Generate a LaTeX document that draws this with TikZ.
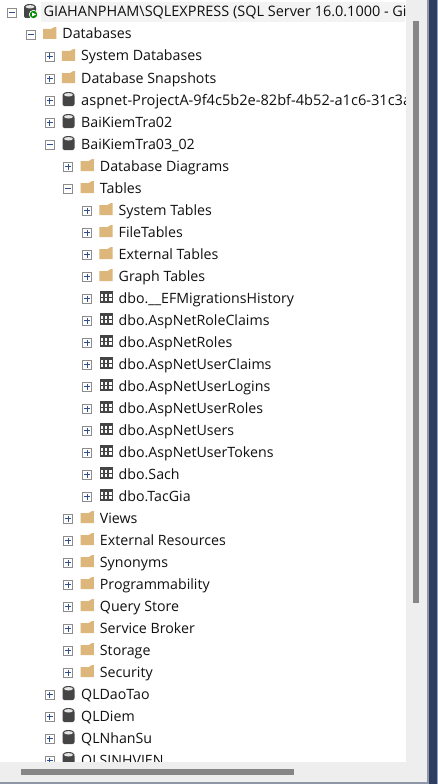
\documentclass[tikz,border=0pt]{standalone}
\usepackage{fontspec}
\setmainfont{Open Sans}
\definecolor{txt}{HTML}{101010}
\definecolor{fold}{HTML}{DCB67A}
\definecolor{dbc}{HTML}{454545}
\definecolor{panel}{HTML}{EEEEEE}
\definecolor{thumb}{HTML}{868686}
\definecolor{navy}{HTML}{2D3E60}
\definecolor{edge}{HTML}{8E96A8}
\definecolor{lite}{HTML}{8FA0C0}
\definecolor{xbr}{HTML}{8C8C8C}
\definecolor{xmk}{HTML}{2F4F8F}
\tikzset{
  x=1pt,y=-1pt,
  rowtext/.style={anchor=base west,inner sep=0pt,font=\fontsize{14.2}{16}\selectfont,text=txt},
  xbox/.style={draw=xbr,line width=.9pt,fill=white},
  xmark/.style={draw=xmk,line width=1pt}
}
\newcommand{\xplus}[2]{%
  \path[xbox] (#1-4.5,#2-4) rectangle (#1+4.5,#2+5);
  \path[xmark] (#1-3,#2+.5) -- (#1+3,#2+.5) (#1,#2-2.5) -- (#1,#2+3.5);}
\newcommand{\xminus}[2]{%
  \path[xbox] (#1-4.5,#2-4) rectangle (#1+4.5,#2+5);
  \path[xmark] (#1-3,#2+.5) -- (#1+3,#2+.5);}
\newcommand{\ifolder}[2]{%
  \fill[fold] (#1-6.7,#2-5) -- (#1+1.5,#2-5) -- (#1+4.5,#2-6.8) -- (#1+6.7,#2-6.8) -- (#1+6.7,#2+5) -- (#1-6.7,#2+5) -- cycle;}
\newcommand{\idb}[2]{%
  \fill[dbc,rounded corners=2pt] (#1-6,#2-6) rectangle (#1+6,#2+6);
  \fill[dbc] (#1,#2-5.2) ellipse [x radius=6,y radius=2.8];
  \fill[white!90!black] (#1,#2-5.2) ellipse [x radius=4.5,y radius=1.7];}
\newcommand{\itable}[2]{%
  \fill[dbc] (#1-6.5,#2-7) rectangle (#1+6.5,#2+5);
  \foreach \u in {-5.5,-1.3,2.9}{
     \fill[white] (#1+\u,#2-3.8) rectangle +(2.7,2.9);
     \fill[white] (#1+\u,#2+.2) rectangle +(2.7,3.2);}}
% \rowitem{name}{level}{row}{plus/minus}{icon}{text}
\newcommand{\rowitem}[6]{%
  \pgfmathsetmacro{\xe}{12+18.75*#2}%
  \pgfmathsetmacro{\xi}{31+18.75*#2}%
  \pgfmathsetmacro{\xt}{43.5+18.75*#2}%
  \pgfmathsetmacro{\yy}{12+22*#3}%
  \pgfmathsetmacro{\yb}{17+22*#3}%
  \csname x#4\endcsname{\xe}{\yy}
  \csname i#5\endcsname{\xi}{\yy}
  \node[rowtext] (#1) at (\xt,\yb) {#6};}
\begin{document}
\begin{tikzpicture}
\useasboundingbox (0,0) rectangle (438,784);
\fill[white] (0,0) rectangle (438,784);
% header highlight
\fill[panel!70!white] (41,2) rectangle (405,22);
\begin{scope}
\clip (0,0) rectangle (405.5,762);
\xminus{12}{12}
\fill[dbc,rounded corners=2pt] (24,6) rectangle (36,18);
\fill[dbc] (30,6.8) ellipse [x radius=6,y radius=2.8];
\fill[white!90!black] (30,6.8) ellipse [x radius=4.5,y radius=1.7];
\fill[white] (33.5,14.5) circle (4.6);
\fill[green!55!black] (33.5,14.5) circle (3.7);
\fill[white] (32.2,12.5) -- (36,14.5) -- (32.2,16.5) -- cycle;
\node[rowtext,font=\fontsize{14.45}{16}\selectfont] (server) at (43.3,17) {GIAHANPHAM\textbackslash SQLEXPRESS (SQL Server 16.0.1000 - Gi};
\rowitem{databases}{1}{1}{minus}{folder}{Databases}
\rowitem{sysdb}{2}{2}{plus}{folder}{System Databases}
\rowitem{snap}{2}{3}{plus}{folder}{Database Snapshots}
\rowitem{aspnet}{2}{4}{plus}{db}{\fontsize{14.6}{16}\selectfont aspnet-ProjectA-9f4c5b2e-82bf-4b52-a1c6-31c3a}
\rowitem{bkt}{2}{5}{plus}{db}{BaiKiemTra02}
\rowitem{bktb}{2}{6}{minus}{db}{BaiKiemTra03\_02}
\rowitem{diagrams}{3}{7}{plus}{folder}{Database Diagrams}
\rowitem{tables}{3}{8}{minus}{folder}{Tables}
\rowitem{systab}{4}{9}{plus}{folder}{System Tables}
\rowitem{filetab}{4}{10}{plus}{folder}{FileTables}
\rowitem{exttab}{4}{11}{plus}{folder}{External Tables}
\rowitem{graphtab}{4}{12}{plus}{folder}{Graph Tables}
\rowitem{ef}{4}{13}{plus}{table}{dbo.\_\_EFMigrationsHistory}
\rowitem{t1}{4}{14}{plus}{table}{dbo.AspNetRoleClaims}
\rowitem{t2}{4}{15}{plus}{table}{dbo.AspNetRoles}
\rowitem{t3}{4}{16}{plus}{table}{dbo.AspNetUserClaims}
\rowitem{t4}{4}{17}{plus}{table}{dbo.AspNetUserLogins}
\rowitem{t5}{4}{18}{plus}{table}{dbo.AspNetUserRoles}
\rowitem{t6}{4}{19}{plus}{table}{dbo.AspNetUsers}
\rowitem{t7}{4}{20}{plus}{table}{dbo.AspNetUserTokens}
\rowitem{t8}{4}{21}{plus}{table}{dbo.Sach}
\rowitem{t9}{4}{22}{plus}{table}{dbo.TacGia}
\rowitem{views}{3}{23}{plus}{folder}{Views}
\rowitem{extres}{3}{24}{plus}{folder}{External Resources}
\rowitem{syn}{3}{25}{plus}{folder}{Synonyms}
\rowitem{prog}{3}{26}{plus}{folder}{Programmability}
\rowitem{qs}{3}{27}{plus}{folder}{Query Store}
\rowitem{sb}{3}{28}{plus}{folder}{Service Broker}
\rowitem{stor}{3}{29}{plus}{folder}{Storage}
\rowitem{sec}{3}{30}{plus}{folder}{Security}
\rowitem{qldt}{2}{31}{plus}{db}{QLDaoTao}
\rowitem{qld}{2}{32}{plus}{db}{QLDiem}
\rowitem{qlns}{2}{33}{plus}{db}{QLNhanSu}
\rowitem{qlsv}{2}{34}{plus}{db}{QLSINHVIEN}
\end{scope}
% scroll bars
\fill[panel] (405.5,0) rectangle (427,784);
\fill[panel] (0,762) rectangle (427,782);
\fill[thumb] (413,21) rectangle (419,602.5);
\fill[thumb] (21,769) rectangle (294,775);
% window edge
\fill[edge] (0,782) rectangle (429,784);
\fill[edge] (427,0) rectangle (429,784);
\fill[navy] (429,0) rectangle (437,784);
\fill[lite] (437,0) rectangle (438,784);
\end{tikzpicture}
\end{document}
